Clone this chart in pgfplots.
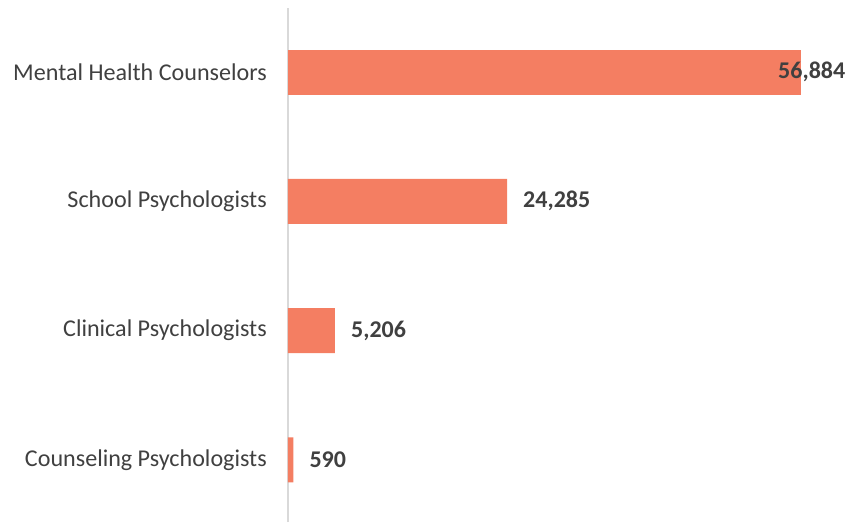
\documentclass[border=0pt]{standalone}
\usepackage{pgfplots}
\pgfplotsset{compat=1.18}
\usepackage{fontspec}
\setmainfont{Carlito}
\definecolor{barc}{HTML}{F47E62}
\definecolor{txt}{HTML}{404040}
\definecolor{axc}{HTML}{D9D9D9}
\begin{document}
\begin{tikzpicture}
\begin{axis}[
  scale only axis,
  width=558pt, height=514pt,
  xmin=0, xmax=61870,
  ymin=-0.48, ymax=3.495,
  axis x line=none,
  axis y line*=left,
  y axis line style={draw=axc, line width=1.5pt, -},
  ytick={0,1,2,3},
  yticklabels={Counseling Psychologists, Clinical Psychologists, School Psychologists, Mental Health Counselors},
  major tick length=0pt,
  yticklabel style={font=\fontsize{24.1}{27}\selectfont, text=txt, anchor=east, xshift=-21pt, inner sep=0pt},
  xbar, bar width=45pt, bar shift=0pt,
  nodes near coords={\pgfmathprintnumber[fixed, precision=0, 1000 sep={,}, assume math mode=true]{\pgfplotspointmeta}},
  point meta=x,
  every node near coord/.append style={font=\bfseries\fontsize{24}{27}\selectfont, text=txt, anchor=west, inner sep=0pt, xshift=16pt},
  clip=false,
]
\addplot[fill=barc, draw=none] coordinates {(590,0) (5206,1) (24285,2)};
\addplot[fill=barc, draw=none, every node near coord/.append style={xshift=-39pt}] coordinates {(56884,3)};
\end{axis}
\pgfresetboundingbox
\path (-288pt,-1pt) rectangle (558pt,522pt);
\end{tikzpicture}
\end{document}
